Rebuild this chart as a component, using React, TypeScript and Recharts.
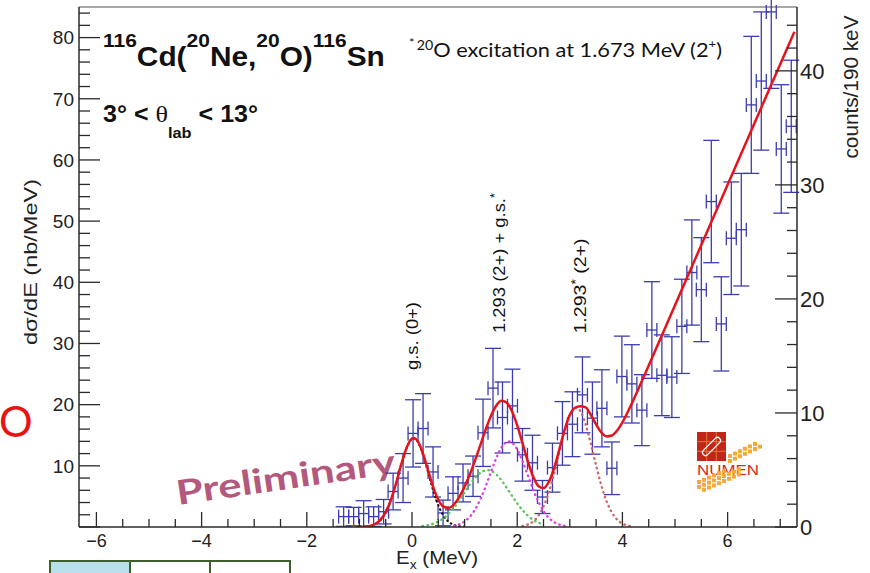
import React from "react";
import { ComposedChart, Scatter, Line, XAxis, YAxis, ErrorBar } from "recharts";

// ---------------- data ----------------
const binCenters = [-1.30, -1.11, -0.92, -0.73, -0.54, -0.36, -0.17, 0.02, 0.21, 0.40, 0.59, 0.78, 0.97, 1.16, 1.35, 1.54, 1.72, 1.91, 2.10, 2.29, 2.48, 2.67, 2.86, 3.05, 3.24, 3.43, 3.61, 3.80, 3.99, 4.18, 4.37, 4.56, 4.75, 4.94, 5.13, 5.32, 5.50, 5.69, 5.88, 6.07, 6.26, 6.45, 6.64, 6.83, 7.02, 7.21];
const crossSection = [1.7, 1.7, 2.2, 1.7, 2.5, 5.8, 8.0, 15.3, 16.1, 9.0, 2.3, 5.5, 7.2, 8.3, 15.4, 22.7, 17.9, 19.8, 11.8, 10.5, 4.9, 9.7, 15.3, 16.8, 21.6, 17.8, 19.4, 9.6, 24.6, 23.4, 19.1, 32.2, 24.8, 24.5, 32.8, 41.6, 38.8, 53.2, 33.2, 47.2, 48.6, 69.0, 72.9, 84.2, 61.8, 65.5];
const crossSectionErr = [1.6, 1.5, 2.1, 1.6, 2.0, 3.0, 4.0, 5.5, 5.7, 4.1, 2.1, 2.7, 3.1, 3.3, 5.5, 6.5, 5.8, 6.0, 4.3, 4.5, 2.7, 4.0, 5.2, 5.3, 6.2, 5.9, 6.3, 4.3, 6.6, 6.4, 5.8, 7.9, 6.6, 6.6, 7.7, 8.6, 8.5, 10.0, 7.7, 9.2, 9.2, 11.2, 11.3, 12.5, 10.5, 10.8];
const binHalfWidth = 0.095;

// total fit (red)
const fitX = [-1.0, -0.9, -0.8, -0.7, -0.6, -0.5, -0.4, -0.3, -0.2, -0.1, 0.0, 0.03, 0.1, 0.2, 0.3, 0.4, 0.5, 0.6, 0.7, 0.8, 0.9, 1.0, 1.1, 1.2, 1.3, 1.4, 1.5, 1.6, 1.7, 1.8, 1.9, 2.0, 2.1, 2.2, 2.3, 2.4, 2.5, 2.6, 2.7, 2.8, 2.9, 3.0, 3.1, 3.2, 3.3, 3.4, 3.5, 3.6, 3.7, 3.8, 3.9, 4.0, 4.2, 4.5, 5.0, 5.5, 6.0, 6.5, 7.0, 7.27];
const fitY = [0.02, 0.06, 0.18, 0.49, 1.16, 2.42, 4.46, 7.25, 10.35, 13.0, 14.46, 14.54, 14.13, 12.22, 9.41, 6.59, 4.46, 3.31, 3.12, 3.72, 4.93, 6.6, 8.62, 10.94, 13.42, 15.91, 18.14, 19.81, 20.62, 20.33, 18.92, 16.61, 13.72, 10.76, 8.28, 6.71, 6.36, 7.37, 9.6, 12.65, 15.83, 18.33, 19.49, 19.73, 19.56, 18.33, 16.76, 15.45, 14.81, 14.95, 15.78, 17.11, 20.58, 26.4, 36.25, 46.1, 55.95, 65.8, 75.65, 80.97];

// g.s. component (black dotted)
const gsX = [-1.0, -0.9, -0.8, -0.7, -0.6, -0.5, -0.4, -0.3, -0.2, -0.1, 0.0, 0.03, 0.1, 0.2, 0.3, 0.4, 0.5, 0.6, 0.7, 0.8, 0.9, 1.0];
const gsY = [0.02, 0.06, 0.18, 0.49, 1.16, 2.42, 4.46, 7.25, 10.35, 13.0, 14.42, 14.5, 14.05, 12.06, 9.12, 6.06, 3.55, 1.83, 0.83, 0.33, 0.12, 0.04];

// 20O excited component (green dotted)
const greenX = [0.2, 0.3, 0.4, 0.5, 0.6, 0.7, 0.8, 0.9, 1.0, 1.1, 1.2, 1.3, 1.43, 1.5, 1.6, 1.7, 1.8, 1.9, 2.0, 2.1, 2.2, 2.3, 2.4, 2.5];
const greenY = [0.16, 0.3, 0.53, 0.9, 1.44, 2.2, 3.18, 4.35, 5.64, 6.93, 8.06, 8.88, 9.3, 9.18, 8.6, 7.64, 6.42, 5.12, 3.87, 2.77, 1.87, 1.2, 0.73, 0.42];

// 1.293 (2+) component (magenta dotted)
const magX = [0.8, 0.9, 1.0, 1.1, 1.2, 1.3, 1.4, 1.5, 1.6, 1.7, 1.84, 1.9, 2.0, 2.1, 2.2, 2.3, 2.4, 2.5, 2.6, 2.7, 2.8, 2.9];
const magY = [0.21, 0.46, 0.92, 1.69, 2.88, 4.54, 6.63, 8.96, 11.21, 12.98, 14.0, 13.8, 12.68, 10.78, 8.49, 6.18, 4.17, 2.6, 1.5, 0.8, 0.4, 0.18];

// 1.293* (2+) component (brown dotted)
const brownX = [2.1, 2.2, 2.3, 2.4, 2.5, 2.6, 2.7, 2.8, 2.9, 3.0, 3.12, 3.2, 3.3, 3.4, 3.5, 3.6, 3.7, 3.8, 3.9, 4.0, 4.1, 4.2];
const brownY = [0.17, 0.4, 0.9, 1.81, 3.34, 5.64, 8.68, 12.19, 15.62, 18.25, 19.5, 18.94, 16.8, 13.6, 10.06, 6.78, 4.17, 2.34, 1.2, 0.56, 0.24, 0.09];

const xTicks = [-6, -5.5, -5, -4.5, -4, -3.5, -3, -2.5, -2, -1.5, -1, -0.5, 0, 0.5, 1, 1.5, 2, 2.5, 3, 3.5, 4, 4.5, 5, 5.5, 6, 6.5, 7];
const leftTicks = [0, 2, 4, 6, 8, 10, 12, 14, 16, 18, 20, 22, 24, 26, 28, 30, 32, 34, 36, 38, 40, 42, 44, 46, 48, 50, 52, 54, 56, 58, 60, 62, 64, 66, 68, 70, 72, 74, 76, 78, 80, 82, 84];
const rightTicks = [0, 2, 4, 6, 8, 10, 12, 14, 16, 18, 20, 22, 24, 26, 28, 30, 32, 34, 36, 38, 40, 42, 44];

// ---------------- derived tables ----------------
const points = binCenters.map((x, i) => ({ x, y: crossSection[i], ey: crossSectionErr[i], ex: binHalfWidth }));
const toCurve = (xs: number[], ys: number[]) => xs.map((x, i) => ({ x, y: ys[i] }));
const fitCurve = toCurve(fitX, fitY);
const gsCurve = toCurve(gsX, gsY);
const greenCurve = toCurve(greenX, greenY);
const magCurve = toCurve(magX, magY);
const brownCurve = toCurve(brownX, brownY);

const HELV = "'Liberation Sans', Arial, Helvetica, sans-serif";
const CAL = "Lato, 'Open Sans', sans-serif";
const AX = "#2a2a2a";
const BLUE = "#3c3cb0";

const fmt = (v: number) => (v < 0 ? "\u2212" + Math.abs(v) : String(v));

const LeftTick = (props: any) => {
  const { x, y, payload } = props;
  const v = payload.value;
  const major = Math.abs(v % 10) < 1e-6;
  return (
    <g>
      <line x1={x} y1={y} x2={x + (major ? 21 : 11)} y2={y} stroke={AX} strokeWidth={1.3} />
      {major && v !== 0 && (
        <text x={x - 5} y={y} dy="0.36em" textAnchor="end" fontSize={19} fill="#222" fontFamily={HELV}>
          {v}
        </text>
      )}
    </g>
  );
};

const RightTick = (props: any) => {
  const { x, y, payload } = props;
  const v = payload.value;
  const major = Math.abs(v % 10) < 1e-6;
  return (
    <g>
      <line x1={x} y1={y} x2={x - (major ? 22 : 10)} y2={y} stroke={AX} strokeWidth={1.3} />
      {major && (
        <text x={x + 3} y={y} dy="0.36em" textAnchor="start" fontSize={22} fill="#222" fontFamily={HELV}>
          {v}
        </text>
      )}
    </g>
  );
};

const BottomTick = (props: any) => {
  const { x, y, payload } = props;
  const v = payload.value;
  const major = Math.abs(v % 2) < 1e-6;
  return (
    <g>
      <line x1={x} y1={y} x2={x} y2={y - (major ? 15 : 8)} stroke={AX} strokeWidth={1.3} />
      {major && (
        <text x={x} y={y + 20} textAnchor="middle" fontSize={18} fill="#222" fontFamily={HELV}>
          {fmt(v)}
        </text>
      )}
    </g>
  );
};

const orangeUpper: [number, number][] = [];
for (let i = 0; i < 7; i++) {
  for (let j = 0; j < 2; j++) {
    if (i + j < 7) orangeUpper.push([728 + i * 5, 459 - i * 2.4 - j * 5]);
  }
}
const orangeLower: [number, number][] = [];
for (let i = 0; i < 9; i++) {
  for (let j = 0; j < 3; j++) {
    if (!(j === 2 && i > 5) && !(j === 0 && i < 1)) orangeLower.push([697 + i * 5, 490 - i * 2.2 - j * 5]);
  }
}

const Decor = () => (
  <svg width={870} height={573} style={{ position: "absolute", left: 0, top: 0 }}>
    {/* top frame */}
    <line x1={79} y1={7} x2={797} y2={7} stroke="#8a8a8a" strokeWidth={1.5} />

    {/* title */}
    <text transform="translate(103,66) scale(1.105,1)" x={0} y={0} fontFamily={HELV} fontWeight="bold" fontSize={27} fill="#111">
      <tspan fontSize={19} dy={-19}>116</tspan>
      <tspan dy={19}>Cd(</tspan>
      <tspan fontSize={19} dy={-19}>20</tspan>
      <tspan dy={19}>Ne,</tspan>
      <tspan fontSize={19} dy={-19}>20</tspan>
      <tspan dy={19}>O)</tspan>
      <tspan fontSize={19} dy={-19}>116</tspan>
      <tspan dy={19}>Sn</tspan>
    </text>

    <text x={103} y={122} fontFamily={HELV} fontWeight="bold" fontSize={23} fill="#111" textLength={155} lengthAdjust="spacingAndGlyphs">
      {"3\u00b0 < "}
      <tspan fontWeight="normal" fontFamily="'Liberation Serif', serif" fontSize={24}>{"\u03b8"}</tspan>
      <tspan fontSize={15} dy={16}>lab</tspan>
      <tspan dy={-16}>{" < 13\u00b0"}</tspan>
    </text>

    <text x={409} y={57} fontFamily={CAL} fontSize={20} fill="#111" textLength={313} lengthAdjust="spacingAndGlyphs">
      <tspan fontSize={12} dy={-10}>*</tspan>
      <tspan fontSize={13} dx={2} dy={3}>20</tspan>
      <tspan dy={7}>O excitation at 1.673 MeV (2</tspan>
      <tspan fontSize={12} dy={-9}>+</tspan>
      <tspan dy={9}>)</tspan>
    </text>

    {/* peak labels */}
    <text transform="translate(418,336) rotate(-90)" textAnchor="middle" fontFamily={HELV} fontSize={17} fill="#111" textLength={68} lengthAdjust="spacingAndGlyphs">
      g.s. (0+)
    </text>
    <text transform="translate(505,263) rotate(-90)" textAnchor="middle" fontFamily={HELV} fontSize={17} fill="#111" textLength={140} lengthAdjust="spacingAndGlyphs">
      1.293 (2+) + g.s.<tspan fontSize={12} dy={-6}>*</tspan>
    </text>
    <text transform="translate(586,286) rotate(-90)" textAnchor="middle" fontFamily={HELV} fontSize={17} fill="#111" textLength={95} lengthAdjust="spacingAndGlyphs">
      1.293<tspan fontSize={12} dy={-6}>*</tspan>
      <tspan dy={6}> (2+)</tspan>
    </text>

    {/* axis titles */}
    <text transform="translate(37,262) rotate(-90)" textAnchor="middle" fontFamily={HELV} fontSize={19} fill="#222" textLength={166} lengthAdjust="spacingAndGlyphs">
      {"d\u03c3/dE (nb/MeV)"}
    </text>
    <text transform="translate(858,87) rotate(-90)" textAnchor="middle" fontFamily={HELV} fontSize={20} fill="#222" textLength={143} lengthAdjust="spacingAndGlyphs">
      counts/190 keV
    </text>
    <text x={396} y={564} fontFamily={HELV} fontSize={19} fill="#222" textLength={82} lengthAdjust="spacingAndGlyphs">
      E<tspan fontSize={13} dy={5}>x</tspan>
      <tspan dy={-5}> (MeV)</tspan>
    </text>

    {/* Preliminary watermark */}
    <text transform="translate(178,505) rotate(-8.3)" fontFamily={CAL} fontWeight="bold" fontSize={34} fill="#b3597d" textLength={221} lengthAdjust="spacingAndGlyphs">
      Preliminary
    </text>

    {/* NUMEN logo */}
    <g>
      <rect x={697} y={432} width={29} height={29} fill="#c1261a" />
      <line x1={706.7} y1={432} x2={706.7} y2={461} stroke="#e8743a" strokeWidth={1} />
      <line x1={716.3} y1={432} x2={716.3} y2={461} stroke="#e8743a" strokeWidth={1} />
      <line x1={697} y1={441.7} x2={726} y2={441.7} stroke="#e8743a" strokeWidth={1} />
      <line x1={697} y1={451.3} x2={726} y2={451.3} stroke="#e8743a" strokeWidth={1} />
      <rect x={700} y={443.5} width={23} height={6} rx={3} transform="rotate(-45 711.5 446.5)" fill="none" stroke="#fff" strokeWidth={1.3} />
      {orangeUpper.map(([x, y], i) => (
        <rect key={"u" + i} x={x} y={y} width={4} height={4} fill="#f4a93a" />
      ))}
      <text x={697} y={475} fontFamily={HELV} fontSize={14} fill="#d42a1c" textLength={62} lengthAdjust="spacingAndGlyphs">
        NUMEN
      </text>
      {orangeLower.map(([x, y], i) => (
        <rect key={"l" + i} x={x} y={y} width={4} height={4} fill="#f4a93a" />
      ))}
    </g>

    {/* slide fragments */}
    <text x={-1} y={437} fontFamily={CAL} fontSize={42} fill="#e81313">O</text>
    <rect x={50} y={561} width={80} height={20} fill="#b8dfea" stroke="#3d5f2c" strokeWidth={2} />
    <rect x={130} y={561} width={80} height={20} fill="#fff" stroke="#3d5f2c" strokeWidth={2} />
    <rect x={210} y={561} width={80} height={20} fill="#fff" stroke="#3d5f2c" strokeWidth={2} />
  </svg>
);

export default function App() {
  return (
    <div style={{ position: "absolute", left: 0, top: 0, width: 870, height: 573, background: "#fff", overflow: "hidden" }}>
      <Decor />
      <div style={{ position: "absolute", left: 0, top: 0 }}>
        <ComposedChart width={870} height={573} margin={{ top: 7, right: 0, bottom: 0, left: 0 }}>
          <XAxis
            type="number"
            dataKey="x"
            domain={[-6.331, 7.319]}
            ticks={xTicks}
            interval={0}
            allowDataOverflow
            height={46}
            tickSize={0}
            tickMargin={0}
            tickLine={false}
            axisLine={{ stroke: AX, strokeWidth: 1.5 }}
            tick={<BottomTick />}
          />
          <YAxis
            yAxisId="left"
            orientation="left"
            type="number"
            domain={[0, 85]}
            ticks={leftTicks}
            interval={0}
            allowDataOverflow
            width={79}
            tickSize={0}
            tickMargin={0}
            tickLine={false}
            axisLine={{ stroke: AX, strokeWidth: 1.5 }}
            tick={<LeftTick />}
          />
          <YAxis
            yAxisId="right"
            orientation="right"
            type="number"
            domain={[0, 45.6]}
            ticks={rightTicks}
            interval={0}
            allowDataOverflow
            width={73}
            tickSize={0}
            tickMargin={0}
            tickLine={false}
            axisLine={{ stroke: AX, strokeWidth: 1.5 }}
            tick={<RightTick />}
          />
          <Scatter data={points} dataKey="y" yAxisId="left" isAnimationActive={false} fill={BLUE} shape={() => <g />}>
            <ErrorBar dataKey="ey" direction="y" width={8} stroke={BLUE} strokeWidth={1.3} isAnimationActive={false} />
            <ErrorBar dataKey="ex" direction="x" width={7} stroke={BLUE} strokeWidth={1.3} isAnimationActive={false} />
          </Scatter>
          <Line data={gsCurve} dataKey="y" yAxisId="left" type="monotone" stroke="#111" strokeWidth={2.2} strokeDasharray="0.5 4" strokeLinecap="round" dot={false} activeDot={false} isAnimationActive={false} />
          <Line data={greenCurve} dataKey="y" yAxisId="left" type="monotone" stroke="#5cc45c" strokeWidth={2.4} strokeDasharray="0.5 4.5" strokeLinecap="round" dot={false} activeDot={false} isAnimationActive={false} />
          <Line data={magCurve} dataKey="y" yAxisId="left" type="monotone" stroke="#e23ee2" strokeWidth={2.4} strokeDasharray="0.5 4.5" strokeLinecap="round" dot={false} activeDot={false} isAnimationActive={false} />
          <Line data={brownCurve} dataKey="y" yAxisId="left" type="monotone" stroke="#c96a64" strokeWidth={2.4} strokeDasharray="0.5 4.5" strokeLinecap="round" dot={false} activeDot={false} isAnimationActive={false} />
          <Line data={fitCurve} dataKey="y" yAxisId="left" type="monotone" stroke="#e5141c" strokeWidth={2.5} dot={false} activeDot={false} isAnimationActive={false} />
        </ComposedChart>
      </div>
    </div>
  );
}
